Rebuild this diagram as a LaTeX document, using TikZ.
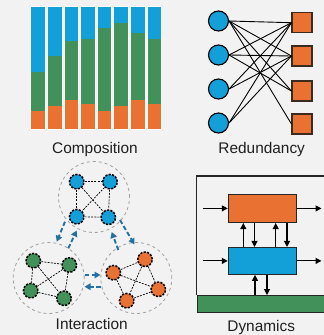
\documentclass[tikz,border=0pt]{standalone}
\usepackage{fontspec}
\setmainfont{Liberation Sans}
\usetikzlibrary{arrows.meta}
\definecolor{bg}{HTML}{F2F2F2}
\definecolor{cblue}{HTML}{139FD8}
\definecolor{cgreen}{HTML}{42915A}
\definecolor{corange}{HTML}{E97132}
\definecolor{darrow}{HTML}{24709F}
\definecolor{sqedge}{HTML}{3A2A20}
\tikzset{
  lbl/.style={anchor=base, inner sep=0pt, font=\fontsize{15.4}{18}\selectfont, text=black!88},
  barseg/.style={draw=white!75!bg, line width=0.8pt},
  rcirc/.style={circle, draw=black, line width=1.1pt, fill=cblue, minimum size=20pt, inner sep=0pt},
  rsq/.style={rectangle, draw=sqedge, line width=1.1pt, fill=corange, minimum size=20pt, inner sep=0pt},
  rline/.style={line width=0.9pt, black},
  cluster/.style={circle, draw=gray!75, dashed, line width=0.8pt, minimum size=71pt, inner sep=0pt},
  inode/.style={circle, draw=black, line width=1.5pt, dash pattern=on 2.2pt off 1.3pt, minimum size=14.5pt, inner sep=0pt},
  iedge/.style={line width=0.7pt, black, dash pattern=on 2pt off 1.2pt},
  darr/.style={draw=darrow, line width=1.9pt, dash pattern=on 4.5pt off 2.5pt, -{Triangle[length=6pt,width=6.5pt,fill=darrow]}},
  dbox/.style={rectangle, draw=black!85, line width=1.1pt, inner sep=0pt, minimum width=68.4pt},
  barr/.style={black, line width=1.1pt, -{Triangle[length=6pt,width=6pt]}},
}
\begin{document}
\begin{tikzpicture}[x=1pt,y=-1pt]
\useasboundingbox (0,0) rectangle (324,335);
\fill[bg] (0,0) rectangle (324,335);

% ---------- Composition ----------
\foreach \i/\b/\g in {0/71.7/111, 1/56/105.7, 2/41/100.3, 3/39/104, 4/28/111, 5/23.3/105.7, 6/33.3/100.3, 7/39/104}{
  \pgfmathsetmacro{\xl}{30.7+16.6*\i}
  \pgfmathsetmacro{\xr}{\xl+14.6}
  \fill[cblue] (\xl,6.7) rectangle (\xr,\b);
  \fill[cgreen] (\xl,\b) rectangle (\xr,\g);
  \fill[corange] (\xl,\g) rectangle (\xr,129.8);
  \draw[barseg] (\xl,6.7) rectangle (\xr,129.8);
}
\node[lbl] (lcomp) at (95,153.3) {Composition};

% ---------- Redundancy ----------
\foreach \k/\y in {1/21,2/55,3/89,4/123}{
  \node[rcirc] (c\k) at (218.5,\y) {};
}
\foreach \k/\y in {1/22.7,2/56,3/91,4/124}{
  \node[rsq] (s\k) at (302,\y) {};
}
\foreach \a/\b in {1/1,1/2,1/3,1/4,2/1,2/2,2/3,3/1,3/2,4/1,4/2}{
  \draw[rline] (c\a.east) -- (s\b.west);
}
\node[lbl] (lred) at (261.7,153.3) {Redundancy};

% ---------- Interaction ----------
\node[cluster] (T) at (94,197) {};
\node[cluster] (G) at (48.7,278) {};
\node[cluster] (O) at (136.3,278) {};

\node[inode, fill=cblue] (t1) at (76.7,181.7) {};
\node[inode, fill=cblue] (t2) at (110,181.7) {};
\node[inode, fill=cblue] (t3) at (76.7,216.7) {};
\node[inode, fill=cblue] (t4) at (108.3,217.3) {};
\foreach \a/\b in {t1/t2,t1/t3,t2/t4,t3/t4,t1/t4,t2/t3}{
  \draw[iedge] (\a) -- (\b);
}

\node[inode, fill=cgreen] (g1) at (33.3,260.7) {};
\node[inode, fill=cgreen] (g2) at (69.3,265) {};
\node[inode, fill=cgreen] (g3) at (30.7,290.7) {};
\node[inode, fill=cgreen] (g4) at (64,298.3) {};
\foreach \a/\b in {g1/g2,g1/g3,g2/g4,g3/g4,g1/g4,g2/g3}{
  \draw[iedge] (\a) -- (\b);
}

\node[inode, fill=corange] (o1) at (145,259.3) {};
\node[inode, fill=corange] (o2) at (113.3,272.7) {};
\node[inode, fill=corange] (o3) at (158.3,289.3) {};
\node[inode, fill=corange] (o4) at (126.7,300.7) {};
\foreach \a/\b in {o2/o1,o1/o3,o3/o4,o4/o2,o2/o3,o1/o4}{
  \draw[iedge] (\a) -- (\b);
}

\coordinate (a1s) at (65,221.7);   \coordinate (a1e) at (56.7,241.7);
\coordinate (a2s) at (68.3,248.3); \coordinate (a2e) at (76.7,230.5);
\coordinate (a3s) at (120,220);    \coordinate (a3e) at (134.5,244.5);
\coordinate (a4s) at (118.3,250);  \coordinate (a4e) at (111.7,232);
\coordinate (a5s) at (84.5,275);   \coordinate (a5e) at (100.5,275);
\coordinate (a6s) at (100.5,286.7);\coordinate (a6e) at (84.5,286.7);
\draw[darr] (a1s) -- (a1e);
\draw[darr] (a2s) -- (a2e);
\draw[darr] (a3s) -- (a3e);
\draw[darr] (a4s) -- (a4e);
\draw[darr] (a5s) -- (a5e);
\draw[darr] (a6s) -- (a6e);
\node[lbl] (lint) at (91.7,329) {Interaction};

% ---------- Dynamics ----------
\node[draw=black!85, line width=1.1pt, fill=cgreen, rectangle, inner sep=0pt,
      minimum width=132pt, minimum height=16.7pt, anchor=north west] (gb) at (196.7,295) {};
\draw[black!85, line width=1.1pt] (gb.north west) -- (196.7,176) -- (330,176);

\node[dbox, fill=corange, minimum height=28.2pt] (ob) at (262.5,208.4) {};
\node[dbox, fill=cblue, minimum height=26.8pt] (bb) at (262.5,260.9) {};

\coordinate (oin) at (203.3,208.4);  \coordinate (oout) at (321.5,208.4);
\coordinate (bin) at (203.3,260.9);  \coordinate (bout) at (321.5,260.9);
\draw[barr] (oin) -- (ob.west);
\draw[barr] (ob.east) -- (oout);
\draw[barr] (bin) -- (bb.west);
\draw[barr] (bb.east) -- (bout);

\draw[barr] (243.3,0 |- bb.north) -- (243.3,0 |- ob.south);
\draw[barr] (254.5,0 |- ob.south) -- (254.5,0 |- bb.north);
\draw[barr] (275.7,0 |- bb.north) -- (275.7,0 |- ob.south);
\draw[barr] (287,0 |- ob.south) -- (287,0 |- bb.north);

\draw[barr] (255,0 |- gb.north) -- (255,0 |- bb.south);
\draw[barr] (267,0 |- bb.south) -- (267,0 |- gb.north);

\node[lbl] (ldyn) at (261.2,331) {Dynamics};
\end{tikzpicture}
\end{document}
